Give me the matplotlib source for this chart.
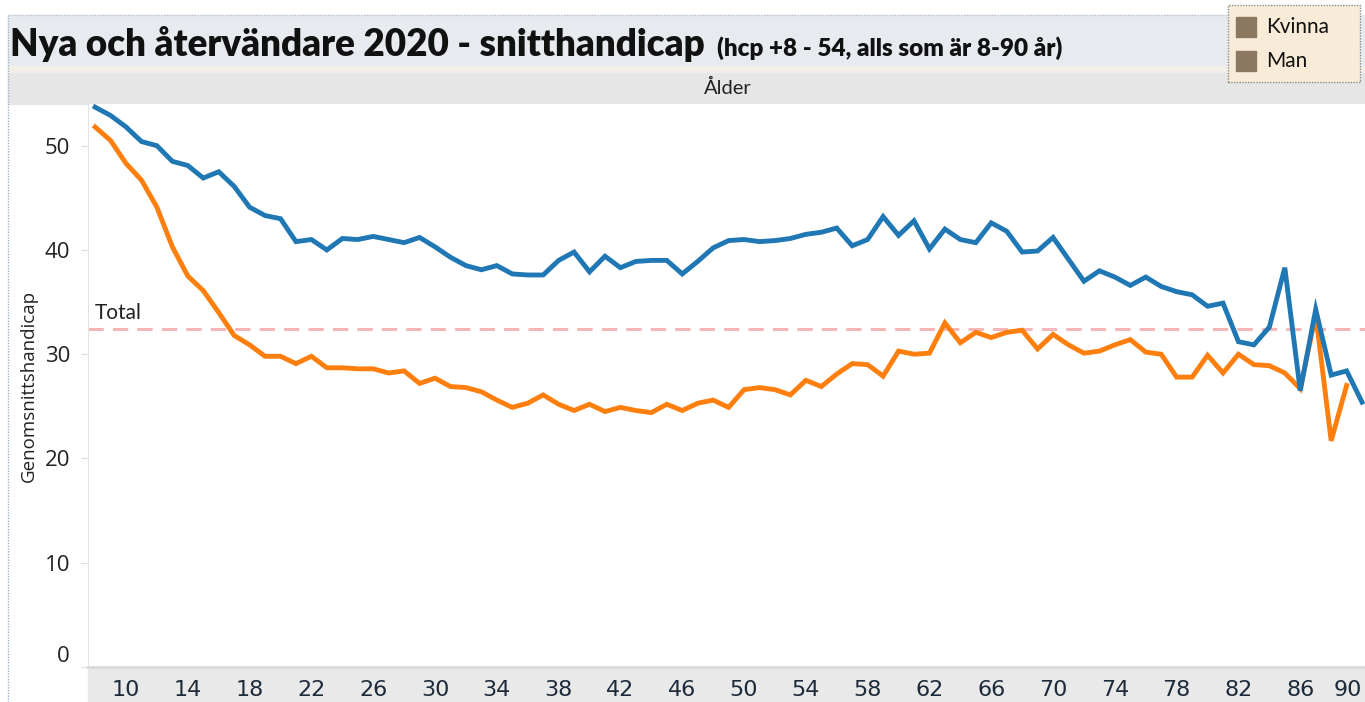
import matplotlib
matplotlib.use("Agg")
import matplotlib.pyplot as plt
from matplotlib.patches import Rectangle
import numpy as np

ages = list(range(8, 91))
kvinna = [53.7, 52.9, 51.8, 50.4, 50.0, 48.5, 48.1, 46.9, 47.5, 46.1,
          44.1, 43.3, 43.0, 40.8, 41.0, 40.0, 41.1, 41.0, 41.3, 41.0,
          40.7, 41.2, 40.3, 39.3, 38.5, 38.1, 38.5, 37.7, 37.6, 37.6,
          39.0, 39.8, 37.9, 39.4, 38.3, 38.9, 39.0, 39.0, 37.7, 38.9,
          40.2, 40.9, 41.0, 40.8, 40.9, 41.1, 41.5, 41.7, 42.1, 40.4,
          41.0, 43.2, 41.4, 42.8, 40.1, 42.0, 41.0, 40.7, 42.6, 41.8,
          39.8, 39.9, 41.2, 39.1, 37.0, 38.0, 37.4, 36.6, 37.4, 36.5,
          36.0, 35.7, 34.6, 34.9, 31.2, 30.9, 32.6, 38.3, 26.5, 34.3,
          28.0, 28.4, 25.4]
man = [51.8, 50.5, 48.3, 46.7, 44.1, 40.3, 37.5, 36.1, 34.0, 31.8,
       30.9, 29.8, 29.8, 29.1, 29.8, 28.7, 28.7, 28.6, 28.6, 28.2,
       28.4, 27.2, 27.7, 26.9, 26.8, 26.4, 25.6, 24.9, 25.3, 26.1,
       25.2, 24.6, 25.2, 24.5, 24.9, 24.6, 24.4, 25.2, 24.6, 25.3,
       25.6, 24.9, 26.6, 26.8, 26.6, 26.1, 27.5, 26.9, 28.1, 29.1,
       29.0, 27.9, 30.3, 30.0, 30.1, 33.0, 31.1, 32.1, 31.6, 32.1,
       32.3, 30.5, 31.9, 30.9, 30.1, 30.3, 30.9, 31.4, 30.2, 30.0,
       27.8, 27.8, 29.9, 28.2, 30.0, 29.0, 28.9, 28.2, 26.7, 33.8,
       21.7, 27.0, np.nan]
total = 32.4
x_ticks = list(range(10, 91, 4))
y_ticks = [0, 10, 20, 30, 40, 50]

W, H = 1365, 702
fig = plt.figure(figsize=(W / 100, H / 100), dpi=100)


def fx(px):
    return px / W


def fy(py):
    return 1 - py / H


# header bands
fig.patches.append(Rectangle((fx(8), fy(66)), fx(1357), fy(15) - fy(66),
                             transform=fig.transFigure, color="#e7ebf0", zorder=-2))
fig.patches.append(Rectangle((fx(8), fy(73)), fx(1357), fy(66) - fy(73),
                             transform=fig.transFigure, color="#f3efe8", zorder=-2))
fig.patches.append(Rectangle((fx(8), fy(104)), fx(1357), fy(73) - fy(104),
                             transform=fig.transFigure, color="#e6e6e6", zorder=-2))
fig.patches.append(Rectangle((fx(88), 0), fx(1277), fy(668),
                             transform=fig.transFigure, color="#e9e9e9", zorder=-2))
fig.lines.append(plt.Line2D([fx(8), fx(8)], [0, fy(15)], transform=fig.transFigure,
                            color="#9fb3c8", lw=1, ls=(0, (1, 1))))
fig.lines.append(plt.Line2D([fx(8), fx(1230)], [fy(15), fy(15)], transform=fig.transFigure,
                            color="#b9c4cf", lw=1, ls=(0, (1, 1))))

ax = fig.add_axes([fx(88), fy(667), fx(1365) - fx(88), fy(104) - fy(667)])
ax.plot(ages, man, color="#ff7f0e", lw=3.5, solid_joinstyle="miter", zorder=3)
ax.plot(ages, kvinna, color="#1f77b4", lw=3.5, solid_joinstyle="miter", zorder=4)
ax.axhline(total, color="#f4b6b6", lw=2.2, ls=(0, (5, 3)), zorder=2)
ax.text(7.95, total + 0.6, "Total", fontsize=15, color="#222222",
        fontfamily="Lato", va="bottom", ha="left")

ax.set_xlim(7.54, 90.19)
ax.set_ylim(0, 54)
ax.set_xticks(x_ticks)
ax.set_xticklabels([str(t) for t in x_ticks], fontsize=16, color="#1c2a3a",
                   fontfamily="Liberation Sans Narrow")
last = ax.get_xticklabels()[-1]
last.set_horizontalalignment("right")
last.set_x(90.19)
ax.set_yticks(y_ticks)
ax.set_yticklabels([str(t) for t in y_ticks], fontsize=16, color="#222222",
                   fontfamily="Open Sans")
ax.get_yticklabels()[0].set_verticalalignment("bottom")
ax.tick_params(axis="x", length=0, pad=9)
ax.tick_params(axis="y", length=5, color="#dddddd", pad=8)
for side in ["top", "right"]:
    ax.spines[side].set_visible(False)
ax.spines["left"].set_color("#e3e3e3")
ax.spines["bottom"].set_color("#d9d9d9")
ax.spines["bottom"].set_linewidth(2)
ax.set_ylabel("Genomsnittshandicap", fontsize=13.5, fontfamily="Open Sans",
              color="#222222", labelpad=5)

# title
title = fig.text(fx(10), fy(56), "Nya och återvändare 2020 - snitthandicap",
                 fontsize=26.5, fontweight="heavy", fontfamily="Lato", color="#111111",
                 va="baseline")
fig.canvas.draw()
bb = title.get_window_extent()
fig.text(fx(bb.x1 + 12), fy(56), "(hcp +8 - 54, alls som är 8-90 år)",
         fontsize=17.5, fontweight="heavy", fontfamily="Lato", color="#111111",
         va="baseline")
fig.text(fx(728), fy(88), "Ålder", fontsize=14.5, fontfamily="Lato",
         color="#222222", ha="center", va="center")

# legend
fig.patches.append(Rectangle((fx(1228), fy(82)), fx(132), fy(5) - fy(82),
                             transform=fig.transFigure, facecolor="#f8ecd9",
                             edgecolor="#8a8a8a", lw=1, ls=(0, (1, 1)), zorder=5))
for lab, py in [("Kvinna", 27), ("Man", 61)]:
    fig.patches.append(Rectangle((fx(1236), fy(py + 10)), fx(20), fy(py - 10) - fy(py + 10),
                                 transform=fig.transFigure, color="#8c7760", zorder=6))
    fig.text(fx(1266), fy(py), lab, fontsize=15, fontfamily="Lato",
             color="#111111", va="center", zorder=7)

fig.savefig("out.png", dpi=100)
